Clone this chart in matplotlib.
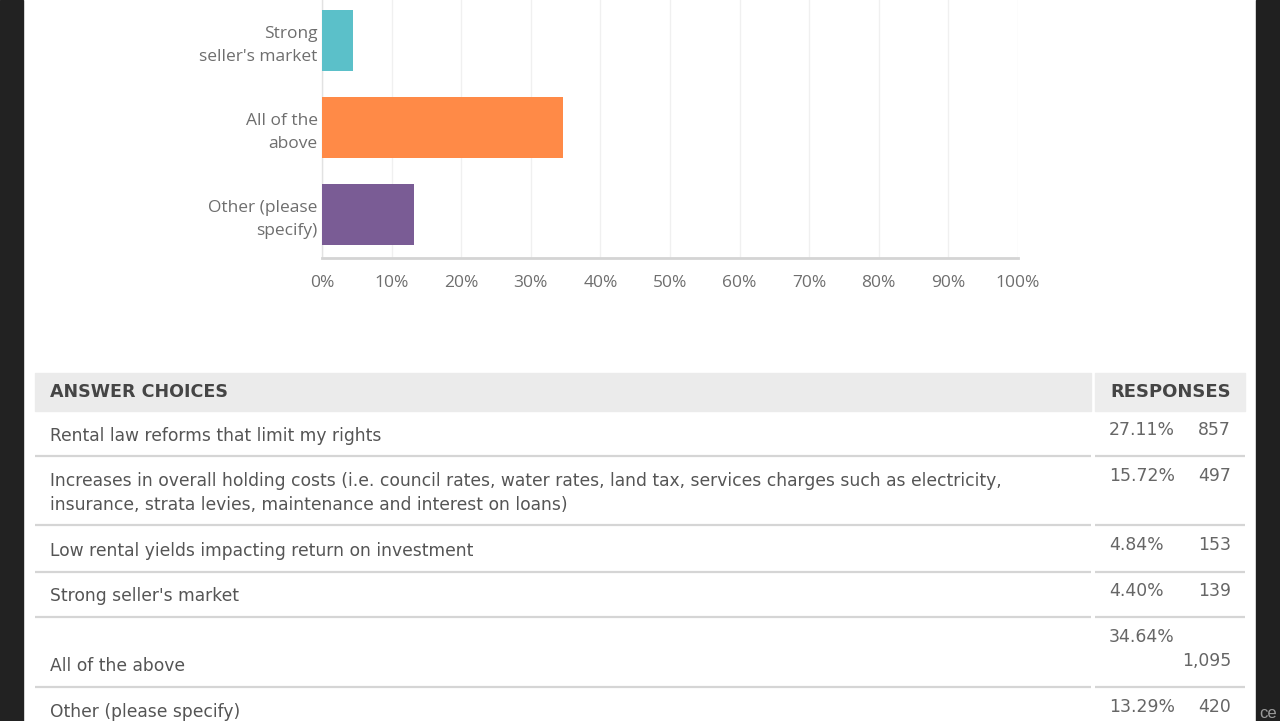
import matplotlib
matplotlib.use("Agg")
import matplotlib.pyplot as plt
from matplotlib.patches import Rectangle

# ---------------- data ----------------
answer_choices = [
    "Rental law reforms that limit my rights",
    "Increases in overall holding costs (i.e. council rates, water rates, land tax, services charges such as electricity,\ninsurance, strata levies, maintenance and interest on loans)",
    "Low rental yields impacting return on investment",
    "Strong seller's market",
    "All of the above",
    "Other (please specify)",
]
bar_labels = [
    "Rental law\nreforms that\nlimit my rights",
    "Increases in\noverall holding\ncosts",
    "Low rental\nyields",
    "Strong\nseller's market",
    "All of the\nabove",
    "Other (please\nspecify)",
]
response_pct = [27.11, 15.72, 4.84, 4.40, 34.64, 13.29]
response_cnt = [857, 497, 153, 139, 1095, 420]
bar_colors = ["#2FA3D8", "#8BC34A", "#F5C242", "#5BC0C9", "#FF8A47", "#7A5C95"]
x_ticks = [0, 10, 20, 30, 40, 50, 60, 70, 80, 90, 100]
x_tick_labels = [f"{t}%" for t in x_ticks]

W, H = 1280, 721
fig = plt.figure(figsize=(W / 100, H / 100), dpi=100, facecolor="white")

# ---------------- bar chart (top part scrolled off, as in screenshot) ----------------
pitch = 87.0
ax_left, ax_right, ax_bottom = 322, 1018, 258
n = len(bar_labels)
visible_rows = 3
ax = fig.add_axes([ax_left / W, (H - ax_bottom) / H,
                   (ax_right - ax_left) / W, visible_rows * pitch / H])
ypos = list(range(n))
ax.barh(ypos, response_pct, height=0.70, color=bar_colors, zorder=3)
ax.set_xticks(x_ticks)
ax.set_xticklabels(x_tick_labels)
ax.set_yticks(ypos)
ax.set_yticklabels(bar_labels, linespacing=1.55)
ax.set_xlim(0, 100)
ax.set_ylim(n - 0.5, n - 0.5 - visible_rows)
ax.grid(axis="x", color="#f0f0f0", linewidth=1.0, zorder=0)
ax.set_axisbelow(True)
for s in ("top", "right"):
    ax.spines[s].set_visible(False)
ax.spines["left"].set_color("#e2e2e2")
ax.spines["left"].set_linewidth(1.0)
ax.spines["bottom"].set_color("#d4d4d4")
ax.spines["bottom"].set_linewidth(2.0)
ax.tick_params(axis="x", length=0, pad=12, labelsize=12.5, labelcolor="#6e6e6e")
ax.tick_params(axis="y", length=0, pad=3, labelsize=12.5, labelcolor="#6e6e6e")
for lab in ax.get_xticklabels() + ax.get_yticklabels():
    lab.set_fontfamily("Open Sans")
ax.set_facecolor("white")

# ---------------- table overlay (pixel coordinates) ----------------
ov = fig.add_axes([0, 0, 1, 1])
ov.set_xlim(0, W)
ov.set_ylim(H, 0)
ov.axis("off")
ov.patch.set_alpha(0)

# dark page borders
ov.add_patch(Rectangle((0, 0), 23, H, color="#222222", zorder=1))
ov.add_patch(Rectangle((1256, 0), W - 1256, H, color="#202020", zorder=1))
ov.text(1259, 714, "ce", fontsize=12, color="#9a9a9a", va="center", ha="left",
        family="Liberation Sans", clip_on=True)

# header band
col_split = 1091
tbl_left, tbl_right = 35, 1245
ov.add_patch(Rectangle((tbl_left, 373), col_split - tbl_left, 38, color="#ebebeb", zorder=1))
ov.add_patch(Rectangle((col_split + 4, 373), tbl_right - col_split - 4, 38, color="#ededed", zorder=1))

tf = "DejaVu Sans"
ov.text(50, 392, "ANSWER CHOICES", fontsize=12.6, fontweight="bold", color="#454545",
        va="center", ha="left", family=tf)
ov.text(1231, 392, "RESPONSES", fontsize=13.0, fontweight="bold", color="#454545",
        va="center", ha="right", family=tf)

# row layout (pixel positions)
label_y = [436, 493, 551, 596, 666, 712]
pct_y = [430, 476, 545, 591, 637, 707]
cnt_y = [430, 476, 545, 591, 661, 707]
sep_y = [456, 525, 572, 617, 687]

for y in sep_y:
    ov.plot([tbl_left, col_split], [y, y], color="#d5d5d5", lw=1.6, zorder=2,
            solid_capstyle="butt")
    ov.plot([col_split + 4, tbl_right], [y, y], color="#d5d5d5", lw=1.6, zorder=2,
            solid_capstyle="butt")

for lab, ly, p, py, c, cy in zip(answer_choices, label_y, response_pct, pct_y,
                                  response_cnt, cnt_y):
    ov.text(50, ly, lab, fontsize=12.3, color="#555555", va="center", ha="left",
            family=tf, linespacing=1.45)
    ov.text(1109, py, f"{p:.2f}%", fontsize=12.4, color="#666666", va="center",
            ha="left", family=tf)
    ov.text(1231, cy, f"{c:,}", fontsize=12.4, color="#666666", va="center",
            ha="right", family=tf)

fig.savefig("out.png", dpi=100, facecolor="white")
